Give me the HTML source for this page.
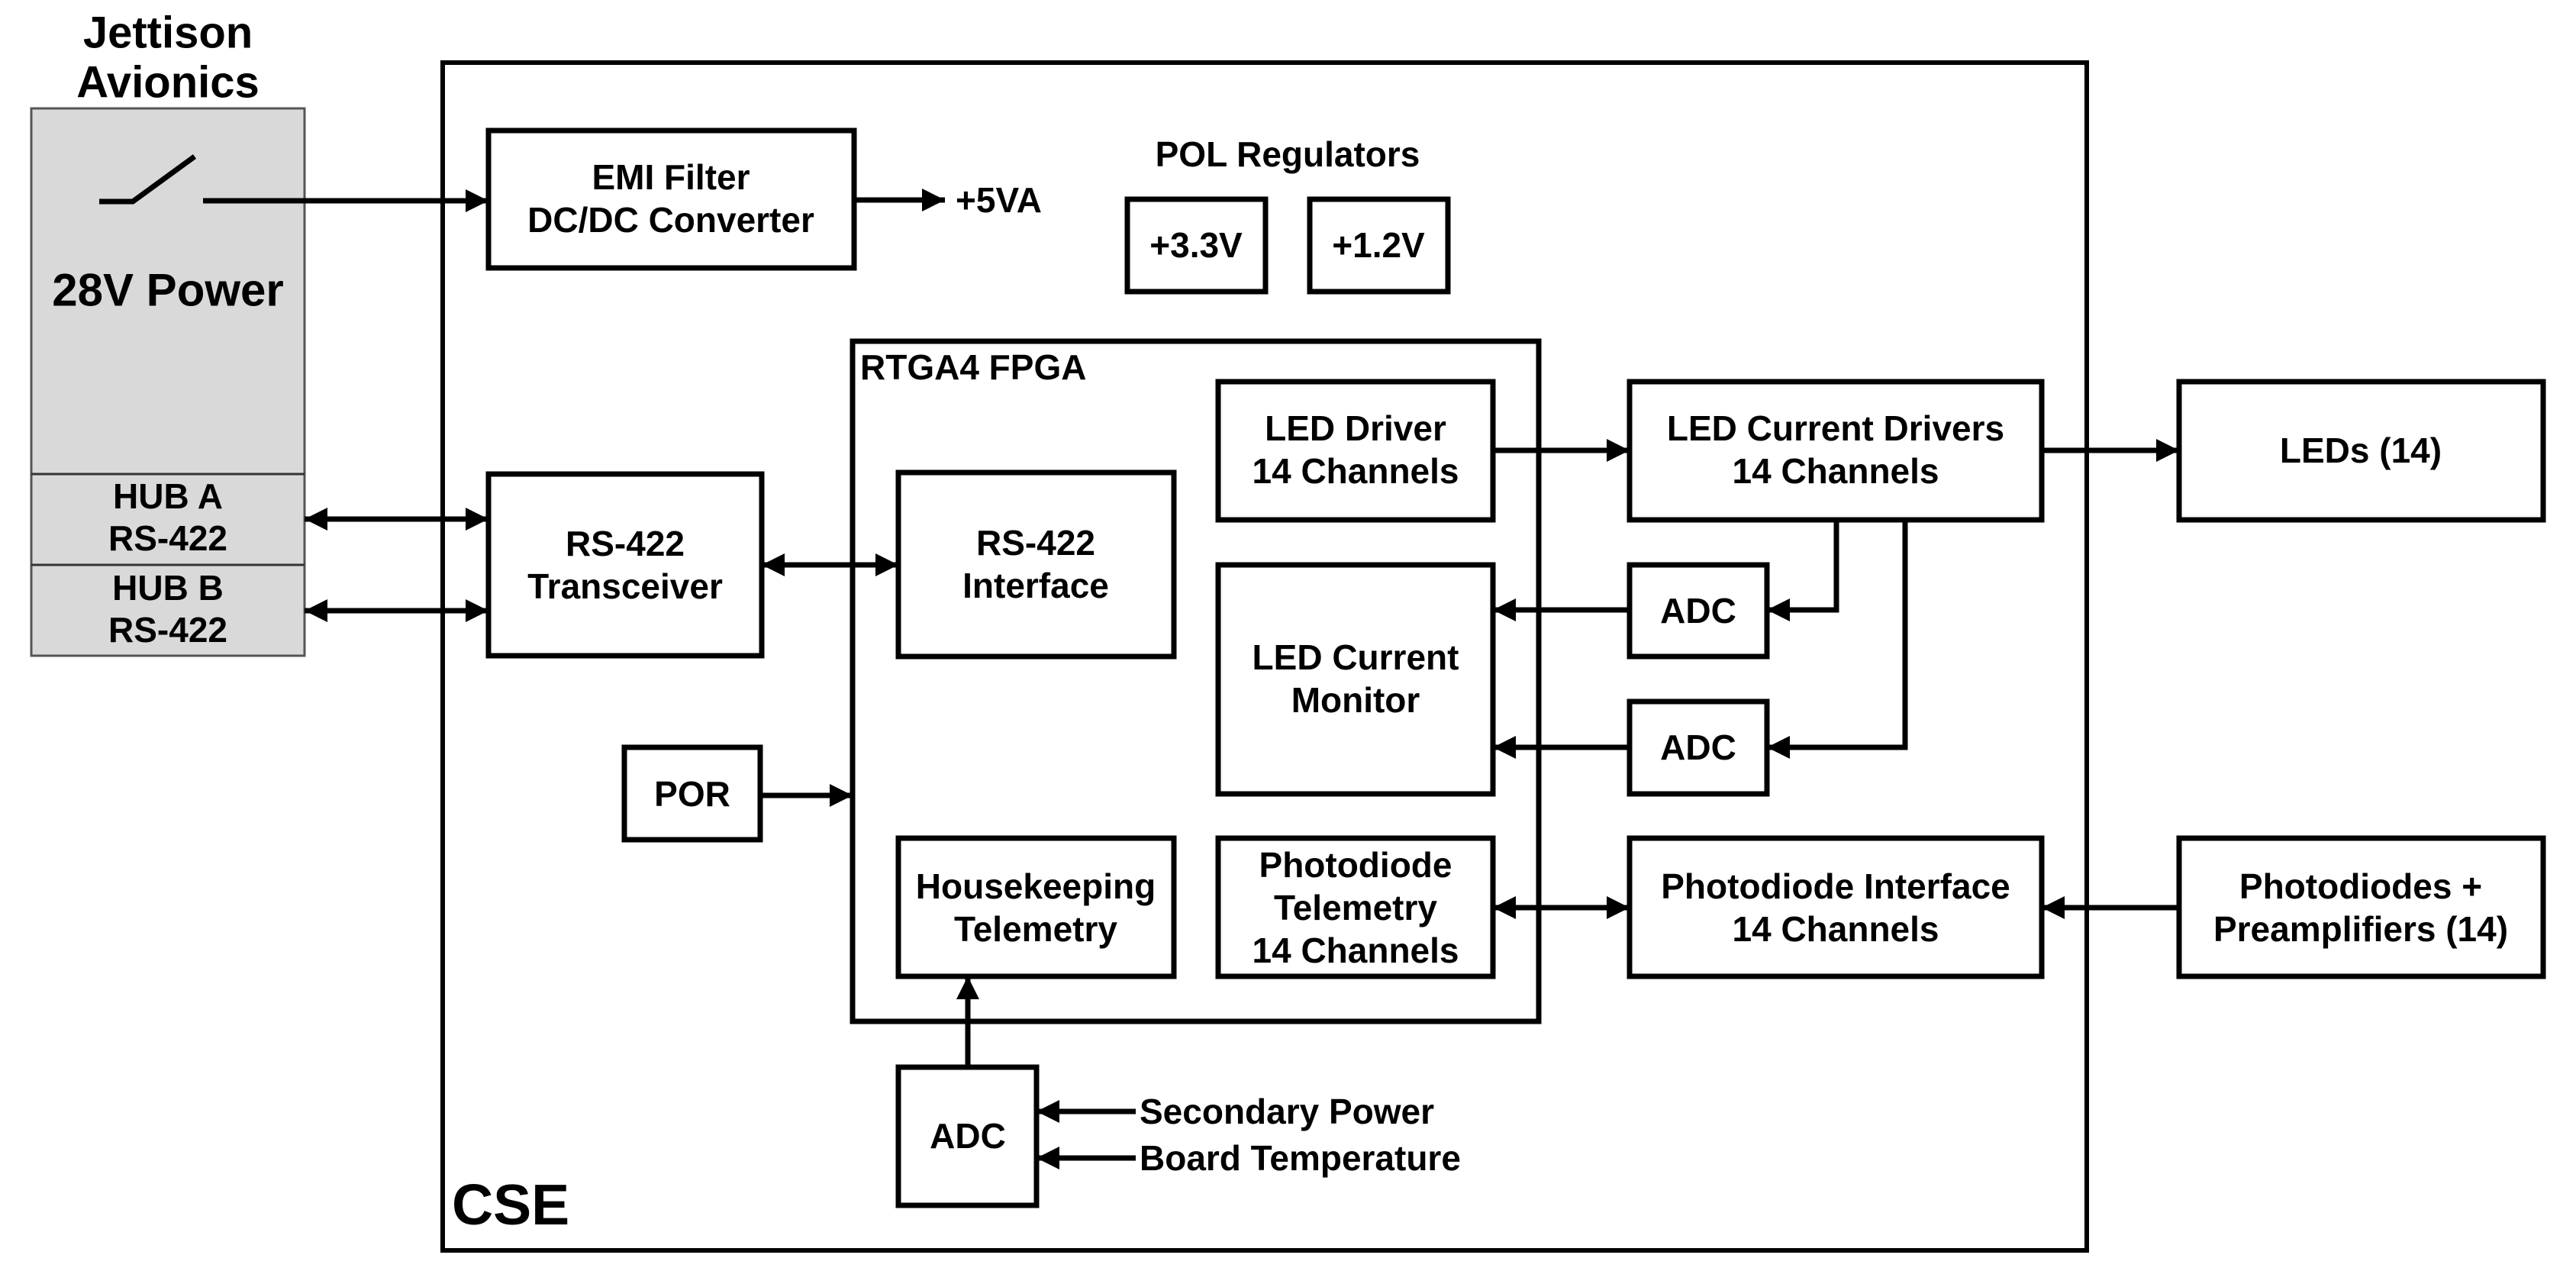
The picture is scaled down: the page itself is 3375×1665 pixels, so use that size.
<!DOCTYPE html>
<html><head><meta charset="utf-8"><style>
html,body{margin:0;padding:0;background:#fff}
svg{display:block}
text{font-family:"Liberation Sans",Arial,sans-serif;font-weight:bold;font-size:46px;fill:#000}
</style></head><body>
<svg width="3375" height="1665" viewBox="0 0 3375 1665" xmlns="http://www.w3.org/2000/svg">
<defs>
<marker id="a" markerUnits="userSpaceOnUse" markerWidth="34" markerHeight="34" refX="30" refY="15" orient="auto-start-reverse"><path d="M0,0 L30,15 L0,30 z" fill="#000"/></marker>
</defs>
<g fill="none" stroke="#000" stroke-width="6">
<rect x="580" y="82" width="2154" height="1556"/>
</g>
<rect x="41" y="142" width="358" height="717" fill="#d9d9d9" stroke="#555" stroke-width="3"/>
<line x1="41" y1="621" x2="399" y2="621" stroke="#333" stroke-width="3"/>
<line x1="41" y1="740" x2="399" y2="740" stroke="#333" stroke-width="3"/>
<g fill="none" stroke="#000" stroke-width="7">
<rect x="640" y="171" width="479" height="180"/>
<rect x="1477" y="261" width="181" height="121"/>
<rect x="1716" y="261" width="181" height="121"/>
<rect x="1117" y="447" width="899" height="891"/>
<rect x="1596" y="500" width="360" height="181"/>
<rect x="2135" y="500" width="540" height="181"/>
<rect x="2855" y="500" width="477" height="181"/>
<rect x="640" y="621" width="358" height="238"/>
<rect x="1177" y="619" width="361" height="241"/>
<rect x="1596" y="740" width="360" height="300"/>
<rect x="2135" y="740" width="180" height="120"/>
<rect x="2135" y="919" width="180" height="121"/>
<rect x="818" y="979" width="178" height="121"/>
<rect x="1177" y="1098" width="361" height="181"/>
<rect x="1596" y="1098" width="360" height="181"/>
<rect x="2135" y="1098" width="540" height="181"/>
<rect x="2855" y="1098" width="477" height="181"/>
<rect x="1177" y="1398" width="181" height="181"/>
<polyline points="130,264 174,264 255,205"/>
<line x1="266" y1="263" x2="640" y2="263" marker-end="url(#a)"/>
<line x1="1119" y1="262" x2="1238" y2="262" marker-end="url(#a)"/>
<line x1="399" y1="680" x2="640" y2="680" marker-start="url(#a)" marker-end="url(#a)"/>
<line x1="399" y1="800" x2="640" y2="800" marker-start="url(#a)" marker-end="url(#a)"/>
<line x1="998" y1="740" x2="1177" y2="740" marker-start="url(#a)" marker-end="url(#a)"/>
<line x1="996" y1="1042" x2="1117" y2="1042" marker-end="url(#a)"/>
<line x1="1956" y1="590" x2="2135" y2="590" marker-end="url(#a)"/>
<line x1="2675" y1="590" x2="2855" y2="590" marker-end="url(#a)"/>
<polyline points="2406,681 2406,799 2315,799" marker-end="url(#a)"/>
<polyline points="2496,681 2496,979 2315,979" marker-end="url(#a)"/>
<line x1="2135" y1="799" x2="1956" y2="799" marker-end="url(#a)"/>
<line x1="2135" y1="979" x2="1956" y2="979" marker-end="url(#a)"/>
<line x1="1956" y1="1189" x2="2135" y2="1189" marker-start="url(#a)" marker-end="url(#a)"/>
<line x1="2855" y1="1189" x2="2675" y2="1189" marker-end="url(#a)"/>
<line x1="1268" y1="1398" x2="1268" y2="1279" marker-end="url(#a)"/>
<line x1="1488" y1="1456" x2="1358" y2="1456" marker-end="url(#a)"/>
<line x1="1488" y1="1517" x2="1358" y2="1517" marker-end="url(#a)"/>
</g>
<g text-anchor="middle" dominant-baseline="central">
<text x="220" y="43" style="font-size:58px">Jettison</text>
<text x="220" y="108" style="font-size:58px">Avionics</text>
<text x="220" y="380" style="font-size:60px">28V Power</text>
<text x="220" y="650">HUB A</text><text x="220" y="705">RS-422</text>
<text x="220" y="770">HUB B</text><text x="220" y="825">RS-422</text>
<text x="879" y="232">EMI Filter</text><text x="879" y="288">DC/DC Converter</text>
<text x="1687" y="202">POL Regulators</text>
<text x="1567" y="321">+3.3V</text><text x="1806" y="321">+1.2V</text>
<text x="1776" y="561">LED Driver</text><text x="1776" y="617">14 Channels</text>
<text x="2405" y="561">LED Current Drivers</text><text x="2405" y="617">14 Channels</text>
<text x="3093" y="590">LEDs (14)</text>
<text x="819" y="712">RS-422</text><text x="819" y="768">Transceiver</text>
<text x="1357" y="711">RS-422</text><text x="1357" y="767">Interface</text>
<text x="1776" y="861">LED Current</text><text x="1776" y="917">Monitor</text>
<text x="2225" y="800">ADC</text><text x="2225" y="979">ADC</text>
<text x="907" y="1040">POR</text>
<text x="1357" y="1161">Housekeeping</text><text x="1357" y="1217">Telemetry</text>
<text x="1776" y="1133">Photodiode</text><text x="1776" y="1189">Telemetry</text><text x="1776" y="1245">14 Channels</text>
<text x="2405" y="1161">Photodiode Interface</text><text x="2405" y="1217">14 Channels</text>
<text x="3093" y="1161">Photodiodes +</text><text x="3093" y="1217">Preamplifiers (14)</text>
<text x="1268" y="1488">ADC</text>
</g>
<g dominant-baseline="central">
<text x="1252" y="262">+5VA</text>
<text x="1127" y="481">RTGA4 FPGA</text>
<text x="1493" y="1456">Secondary Power</text>
<text x="1493" y="1517">Board Temperature</text>
<text x="592" y="1578" style="font-size:75px">CSE</text>
</g>
</svg>
</body></html>
